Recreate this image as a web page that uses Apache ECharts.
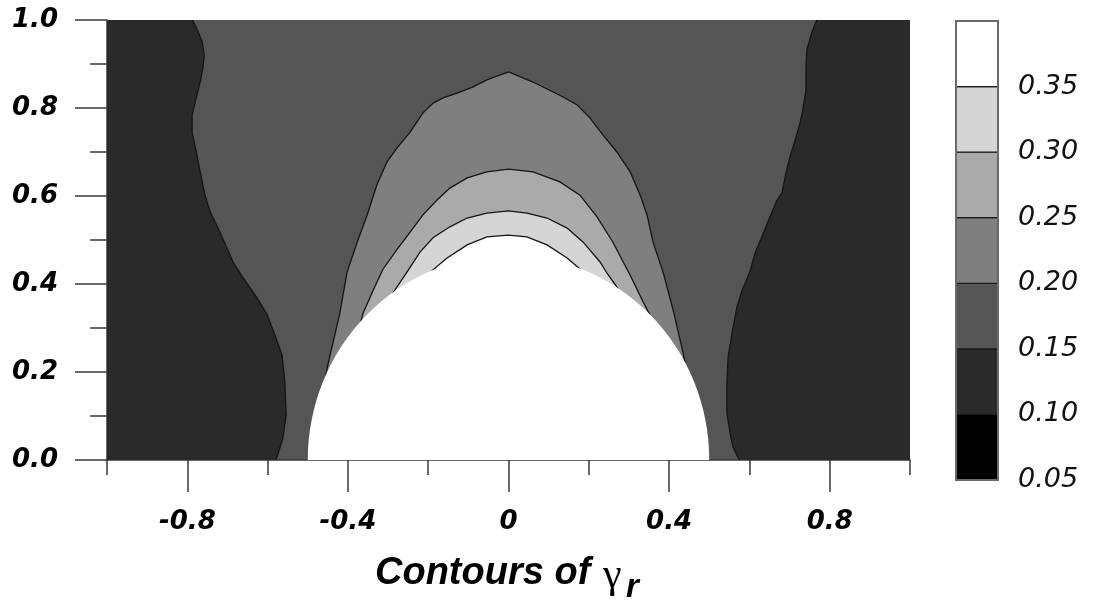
<!DOCTYPE html>
<html>
<head>
<meta charset="utf-8">
<script src="https://cdn.jsdelivr.net/npm/echarts@6/dist/echarts.min.js"></script>
<style>
  html, body { margin: 0; padding: 0; background: #ffffff; }
  #chart { width: 1094px; height: 602px; }
</style>
</head>
<body>
<div id="chart"></div>
<script>
// Contour levels of gamma_r and the grey fill of each band (lowest band first)
const levels = [0.05, 0.10, 0.15, 0.20, 0.25, 0.30, 0.35, 0.40];
const bandColors = ['#000000', '#2a2a2a', '#555555', '#7f7f7f', '#aaaaaa', '#d5d5d5', '#ffffff'];
const barLabels = [0.05, 0.10, 0.15, 0.20, 0.25, 0.30, 0.35];

// Axis ticks
const xTicks = [-0.8, -0.4, 0, 0.4, 0.8];
const xMinorTicks = [-1, -0.6, -0.2, 0.2, 0.6, 1];
const yTicks = [0, 0.2, 0.4, 0.6, 0.8, 1.0];
const yMinorTicks = [0.1, 0.3, 0.5, 0.7, 0.9];

// Contour lines, [x, y] in data units
// 0.15 level, left side (top edge down to the wall)
const c015Left = [
  [-0.787, 1.0], [-0.773, 0.973], [-0.763, 0.95], [-0.758, 0.92], [-0.761, 0.891],
  [-0.768, 0.859], [-0.776, 0.83], [-0.788, 0.784], [-0.788, 0.745], [-0.776, 0.693],
  [-0.768, 0.655], [-0.756, 0.602], [-0.743, 0.564], [-0.719, 0.518], [-0.686, 0.45],
  [-0.661, 0.414], [-0.626, 0.368], [-0.601, 0.33], [-0.582, 0.284], [-0.564, 0.239],
  [-0.557, 0.177], [-0.554, 0.102], [-0.562, 0.05], [-0.577, 0.005], [-0.58, 0.0]
];
// 0.15 level, right side
const c015Right = [
  [0.768, 1.0], [0.756, 0.973], [0.743, 0.932], [0.741, 0.893], [0.741, 0.841],
  [0.733, 0.795], [0.726, 0.766], [0.714, 0.727], [0.701, 0.689], [0.691, 0.652],
  [0.681, 0.607], [0.669, 0.591], [0.651, 0.552], [0.631, 0.507], [0.614, 0.47],
  [0.601, 0.427], [0.582, 0.386], [0.569, 0.348], [0.557, 0.289], [0.547, 0.234],
  [0.544, 0.175], [0.544, 0.107], [0.552, 0.061], [0.559, 0.03], [0.572, 0.005], [0.575, 0.0]
];
// 0.20 level
const c020 = [
  [-0.457, 0.182], [-0.45, 0.216], [-0.42, 0.334], [-0.402, 0.427], [-0.377, 0.495],
  [-0.352, 0.557], [-0.328, 0.625], [-0.303, 0.677], [-0.278, 0.709], [-0.245, 0.745],
  [-0.213, 0.789], [-0.188, 0.811], [-0.163, 0.823], [-0.128, 0.834], [-0.088, 0.848],
  [-0.054, 0.864], [0.0, 0.882], [0.061, 0.859], [0.136, 0.825], [0.171, 0.807],
  [0.203, 0.777], [0.235, 0.739], [0.27, 0.7], [0.303, 0.655], [0.328, 0.602],
  [0.345, 0.557], [0.36, 0.495], [0.385, 0.427], [0.41, 0.341], [0.435, 0.243], [0.445, 0.193]
];
// 0.25 level
const c025 = [
  [-0.372, 0.30], [-0.362, 0.334], [-0.337, 0.386], [-0.313, 0.433], [-0.278, 0.478],
  [-0.245, 0.518], [-0.213, 0.557], [-0.178, 0.591], [-0.146, 0.618], [-0.103, 0.641],
  [-0.054, 0.655], [0.0, 0.661], [0.061, 0.655], [0.128, 0.632], [0.178, 0.602],
  [0.22, 0.553], [0.26, 0.495], [0.303, 0.42], [0.335, 0.36], [0.352, 0.33], [0.362, 0.31]
];
// 0.30 level
const c030 = [
  [-0.295, 0.37], [-0.283, 0.386], [-0.253, 0.427], [-0.22, 0.473], [-0.188, 0.505],
  [-0.146, 0.53], [-0.103, 0.55], [-0.054, 0.561], [0.0, 0.566], [0.046, 0.561],
  [0.096, 0.55], [0.146, 0.527], [0.186, 0.495], [0.228, 0.45], [0.245, 0.425],
  [0.27, 0.393], [0.28, 0.375]
];
// 0.35 level
const c035 = [
  [-0.21, 0.415], [-0.2, 0.423], [-0.153, 0.459], [-0.103, 0.489], [-0.054, 0.507],
  [0.0, 0.511], [0.046, 0.507], [0.096, 0.489], [0.146, 0.459], [0.183, 0.43], [0.19, 0.42]
];

// Half-body sitting on the wall (no data inside)
const bodyCenter = [0, 0];
const bodyRadiusX = 0.5;
const bodyRadiusY = 0.466;

// Filled bands, painted from the outside in
const regions = [
  { pts: c015Left.concat([[-1, 0], [-1, 1]]), color: bandColors[1] },
  { pts: c015Right.concat([[1, 0], [1, 1]]), color: bandColors[1] },
  { pts: c020.concat([bodyCenter]), color: bandColors[3] },
  { pts: c025.concat([bodyCenter]), color: bandColors[4] },
  { pts: c030.concat([bodyCenter]), color: bandColors[5] },
  { pts: c035.concat([bodyCenter]), color: bandColors[6] }
];
const contourLines = [c015Left, c015Right, c020, c025, c030, c035];

const AXIS_COLOR = '#383838';
const tickFont = {
  fontFamily: '"DejaVu Sans", sans-serif',
  fontWeight: 'bold',
  fontStyle: 'italic',
  fontSize: 26,
  color: '#000000'
};

const chart = echarts.init(document.getElementById('chart'), null, { renderer: 'canvas' });

chart.setOption({
  animation: false,
  backgroundColor: '#ffffff',
  grid: [
    { left: 107, top: 20, width: 803, height: 440, show: true, backgroundColor: bandColors[2], borderWidth: 0 },
    { left: 956, top: 21, width: 42, height: 459, show: false }
  ],
  xAxis: [
    {
      type: 'value', gridIndex: 0, min: -1, max: 1, position: 'bottom',
      axisLine: { show: true, onZero: false, lineStyle: { color: AXIS_COLOR, width: 1.5 } },
      axisTick: { show: true, customValues: xTicks, length: 32, lineStyle: { color: AXIS_COLOR, width: 1.5 } },
      axisLabel: Object.assign({ customValues: xTicks, margin: 49,
        formatter: v => (v === 0 ? '0' : v.toFixed(1)) }, tickFont),
      splitLine: { show: false }
    },
    {
      type: 'value', gridIndex: 0, min: -1, max: 1, position: 'bottom',
      axisLine: { show: false, onZero: false },
      axisTick: { show: true, customValues: xMinorTicks, length: 15, lineStyle: { color: AXIS_COLOR, width: 1.5 } },
      axisLabel: { show: false },
      splitLine: { show: false }
    },
    { type: 'value', gridIndex: 1, min: 0, max: 1, show: false }
  ],
  yAxis: [
    {
      type: 'value', gridIndex: 0, min: 0, max: 1, position: 'left',
      axisLine: { show: true, onZero: false, lineStyle: { color: AXIS_COLOR, width: 1.5 } },
      axisTick: { show: true, customValues: yTicks, length: 32, lineStyle: { color: AXIS_COLOR, width: 1.5 } },
      axisLabel: Object.assign({ customValues: yTicks, margin: 49,
        formatter: v => v.toFixed(1) }, tickFont),
      splitLine: { show: false }
    },
    {
      type: 'value', gridIndex: 0, min: 0, max: 1, position: 'left',
      axisLine: { show: false, onZero: false },
      axisTick: { show: true, customValues: yMinorTicks, length: 17, lineStyle: { color: AXIS_COLOR, width: 1.5 } },
      axisLabel: { show: false },
      splitLine: { show: false }
    },
    {
      type: 'value', gridIndex: 1, min: 0.05, max: 0.40, position: 'right',
      axisLine: { show: false },
      axisTick: { show: false },
      splitLine: { show: false },
      axisLabel: {
        customValues: barLabels, margin: 20,
        formatter: v => v.toFixed(2),
        fontFamily: '"DejaVu Sans", sans-serif',
        fontStyle: 'italic',
        fontSize: 27,
        color: '#111111'
      }
    }
  ],
  series: [
    {
      // filled contour bands
      type: 'custom', xAxisIndex: 0, yAxisIndex: 0, clip: true, silent: true, z: 2,
      data: regions.map(() => [0, 0.5]),
      renderItem: (params, api) => {
        const r = regions[params.dataIndex];
        return {
          type: 'polygon',
          shape: { points: r.pts.map(p => api.coord(p)) },
          style: { fill: r.color }
        };
      }
    },
    {
      // contour lines
      type: 'custom', xAxisIndex: 0, yAxisIndex: 0, clip: true, silent: true, z: 3,
      data: contourLines.map(() => [0, 0.5]),
      renderItem: (params, api) => ({
        type: 'polyline',
        shape: { points: contourLines[params.dataIndex].map(p => api.coord(p)) },
        style: { fill: null, stroke: '#141414', lineWidth: 1.3 }
      })
    },
    {
      // half-body on the wall
      type: 'custom', xAxisIndex: 0, yAxisIndex: 0, clip: true, silent: true, z: 4,
      data: [bodyCenter],
      renderItem: (params, api) => {
        const c = api.coord(bodyCenter);
        const s = api.size([bodyRadiusX, bodyRadiusY]);
        const rx = s[0], ry = s[1];
        return {
          type: 'path',
          shape: {
            pathData: 'M ' + (c[0] - rx) + ' ' + c[1] +
              ' A ' + rx + ' ' + ry + ' 0 0 1 ' + (c[0] + rx) + ' ' + c[1] + ' Z'
          },
          style: { fill: '#ffffff' }
        };
      }
    },
    {
      // colour bar bands
      type: 'custom', xAxisIndex: 2, yAxisIndex: 2, silent: true, z: 5,
      data: bandColors.map(() => [0.5, 0.2]),
      renderItem: (params, api) => {
        const i = params.dataIndex;
        const tl = api.coord([0, levels[i + 1]]);
        const br = api.coord([1, levels[i]]);
        return {
          type: 'rect',
          shape: { x: tl[0], y: tl[1], width: br[0] - tl[0], height: br[1] - tl[1] },
          style: { fill: bandColors[i], stroke: '#1c1c1c', lineWidth: 1.2 }
        };
      }
    },
    {
      // colour bar frame
      type: 'custom', xAxisIndex: 2, yAxisIndex: 2, silent: true, z: 6,
      data: [[0.5, 0.2]],
      renderItem: (params, api) => {
        const tl = api.coord([0, levels[levels.length - 1]]);
        const br = api.coord([1, levels[0]]);
        return {
          type: 'rect',
          shape: { x: tl[0], y: tl[1], width: br[0] - tl[0], height: br[1] - tl[1] },
          style: { fill: null, stroke: '#6a6a6a', lineWidth: 2 }
        };
      }
    }
  ],
  graphic: [
    {
      type: 'text', left: 375, top: 555,
      style: { text: 'Contours of', font: 'italic bold 38px "Liberation Sans", Arial, sans-serif', fill: '#000' }
    },
    {
      type: 'text', left: 603, top: 555,
      style: { text: 'γ', font: '42px "Liberation Serif", "DejaVu Serif", serif', fill: '#000' }
    },
    {
      type: 'text', left: 626, top: 571,
      style: { text: 'r', font: 'italic bold 33px "Liberation Sans", Arial, sans-serif', fill: '#000' }
    }
  ]
});
</script>
</body>
</html>
